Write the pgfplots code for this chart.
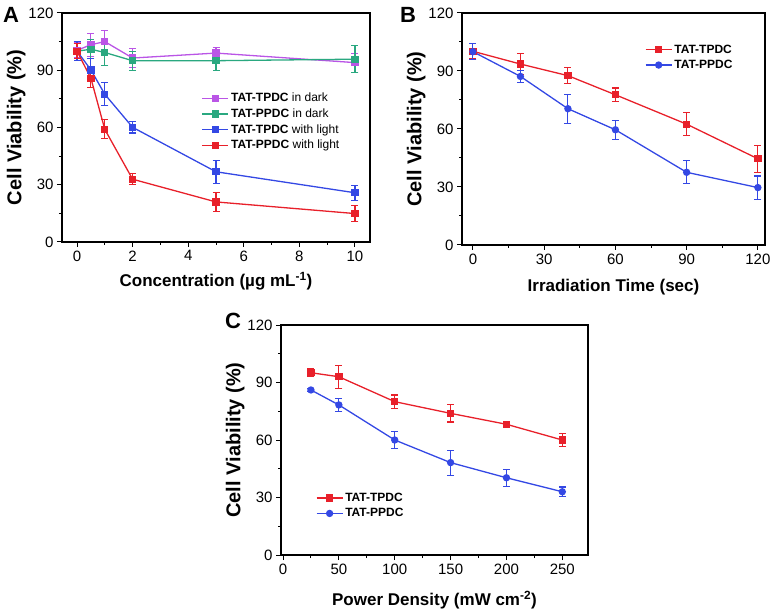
\documentclass[border=0pt]{standalone}
\usepackage{pgfplots}
\pgfplotsset{compat=1.18}
\usepackage{fontspec}
\setmainfont{Liberation Sans}
\definecolor{cred}{RGB}{232,32,42}
\definecolor{cblue}{RGB}{52,72,228}
\definecolor{cviolet}{RGB}{186,85,230}
\definecolor{cgreen}{RGB}{42,168,128}
\pgfplotsset{
  panel/.style={
    scale only axis,
    axis line style={line width=1.5pt},
    tick style={line width=1pt, black},
    tick align=outside,
    xtick pos=bottom, ytick pos=left,
    major tick length=5pt, minor tick length=3pt,
    minor tick num=1,
    ymin=0, ymax=120, ytick={0,30,...,120},
    tick label style={font=\fontsize{15}{15}\selectfont},
    /pgf/number format/assume math mode=true,
    xlabel style={font=\bfseries\fontsize{17}{17}\selectfont},
    ylabel style={font=\bfseries\fontsize{20}{20}\selectfont},
    ylabel shift=-4pt,
    ylabel={Cell Viability (\%)},
    legend style={draw=none, fill=none, font=\fontsize{12}{12}\selectfont,
      cells={anchor=west}, inner sep=1pt, row sep=1.5pt},
    legend image code/.code={\draw[mark repeat=2, mark phase=2, #1] plot coordinates {(0pt,0pt) (13pt,0pt) (26pt,0pt)};},
  },
  eb/.style={line width=1.3pt, mark size=3pt,
    error bars/.cd, y dir=both, y explicit,
    error bar style={line width=1.1pt, solid},
    error mark options={rotate=90, mark size=3.5pt, line width=1.1pt}},
}
\begin{document}
\begin{tikzpicture}
\path[use as bounding box] (0,0) rectangle (774pt,611pt);
% Panel A
\begin{axis}[panel, at={(62pt,369pt)}, anchor=south west, width=308pt, height=229pt,
  xmin=-0.54, xmax=10.54, xtick={0,2,...,10},
  xlabel={Concentration (µg mL\textsuperscript{-1})},
  xlabel style={yshift=-4pt},
  legend style={at={(axis description cs:0.45,0.664)}, anchor=north west}]
\addplot[cviolet, mark=square*, eb] table[x=x, y=y, y error=e] {
x y e
0 100.4 4
0.5 103.4 6
1 105 6
2 96.4 5
5 99 3
10 94 5
};
\addlegendentry{\textbf{TAT-TPDC} in dark}
\addplot[cgreen, mark=square*, eb] table[x=x, y=y, y error=e] {
x y e
0 100 4
0.5 101 5
1 99.3 7
2 95 5
5 95 5
10 95.8 7
};
\addlegendentry{\textbf{TAT-PPDC} in dark}
\addplot[cblue, mark=square*, eb] table[x=x, y=y, y error=e] {
x y e
0 100 5
0.5 90.2 6
1 77.4 6
2 60.1 3
5 36.8 6
10 25.8 4
};
\addlegendentry{\textbf{TAT-TPDC} with light}
\addplot[cred, mark=square*, eb] table[x=x, y=y, y error=e] {
x y e
0 100 4
0.5 85.8 5
1 59 5
2 32.9 3
5 21 5
10 14.9 4
};
\addlegendentry{\textbf{TAT-PPDC} with light}
\end{axis}
% Panel B
\begin{axis}[panel, at={(462pt,366pt)}, anchor=south west, width=303pt, height=232pt,
  xmin=-4.6, xmax=123, xtick={0,30,...,120},
  xlabel={Irradiation Time (sec)},
  xlabel style={yshift=-8pt},
  legend style={at={(axis description cs:0.60,0.877)}, anchor=north west, font=\bfseries\fontsize{12}{12}\selectfont}]
\addplot[cred, mark=square*, eb] table[x=x, y=y, y error=e] {
x y e
0 100.2 4
20 93.6 5.5
40 87.6 4
60 77.7 3.5
90 62.5 6
120 44.6 7
};
\addlegendentry{TAT-TPDC}
\addplot[cblue, mark=*, eb] table[x=x, y=y, y error=e] {
x y e
0 100 4
20 87.2 3
40 70.5 7.5
60 59.6 5
90 37.6 6
120 29.7 6
};
\addlegendentry{TAT-PPDC}
\end{axis}
% Panel C
\begin{axis}[panel, at={(281pt,56pt)}, anchor=south west, width=307pt, height=230pt,
  xmin=-1.8, xmax=273, xtick={0,50,...,250},
  xlabel={Power Density (mW cm\textsuperscript{-2})},
  xlabel style={yshift=-10pt},
  legend style={at={(axis description cs:0.11,0.283)}, anchor=north west, font=\bfseries\fontsize{12}{12}\selectfont}]
\addplot[cred, mark=square*, eb] table[x=x, y=y, y error=e] {
x y e
25 95.1 2
50 93 6
100 80 3.5
150 73.9 4.5
200 68.2 1
250 60 3.5
};
\addlegendentry{TAT-TPDC}
\addplot[cblue, mark=*, eb] table[x=x, y=y, y error=e] {
x y e
25 86.1 1
50 78.3 3.5
100 60 4.5
150 48.2 6.5
200 40.3 4.5
250 33 2.5
};
\addlegendentry{TAT-PPDC}
\end{axis}
\node[anchor=north west, inner sep=0pt, font=\bfseries\fontsize{22}{22}\selectfont] at (3pt,604pt) {A};
\node[anchor=north west, inner sep=0pt, font=\bfseries\fontsize{22}{22}\selectfont] at (400pt,604pt) {B};
\node[anchor=north west, inner sep=0pt, font=\bfseries\fontsize{22}{22}\selectfont] at (225pt,298pt) {C};
\end{tikzpicture}
\end{document}
